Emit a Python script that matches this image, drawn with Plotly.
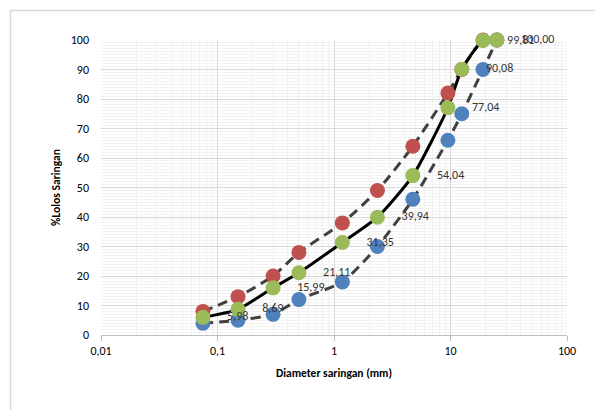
import plotly.graph_objects as go

# ---- data ----
sieve_mm = [0.075, 0.15, 0.3, 0.5, 1.18, 2.36, 4.75, 9.5, 12.5, 19, 25]
upper_limit = [8, 13, 20, 28, 38, 49, 64, 82, 90, 100, 100]
lower_limit = [4, 5, 7, 12, 18, 30, 46, 66, 75, 90, 100]
passing = [5.98, 8.69, 15.99, 21.11, 31.35, 39.94, 54.04, 77.04, 90.08, 99.81, 100.00]
x_tickvals = [0.01, 0.1, 1, 10, 100]
x_ticktext = ["0,01", "0,1", "1", "10", "100"]

FONT = "Calibri, Carlito, Lato, sans-serif"
RED = "#C0504D"
BLUE = "#4F81BD"
GREEN = "#9BBB59"
DASH_COL = "#404040"

# page offset of the figure (default body margin)
OFF = 8
W, H = 603 - OFF, 410 - OFF
L, R, T, B = 101 - OFF, 567 - OFF, 40 - OFF, 335 - OFF

fig = go.Figure()

# lines
fig.add_trace(go.Scatter(x=sieve_mm, y=upper_limit, mode="lines", cliponaxis=False,
                         line=dict(color=DASH_COL, width=3, dash="10px,6px", shape="spline", smoothing=0.6),
                         hoverinfo="skip", showlegend=False))
fig.add_trace(go.Scatter(x=sieve_mm, y=lower_limit, mode="lines", cliponaxis=False,
                         line=dict(color=DASH_COL, width=3, dash="10px,6px", shape="spline", smoothing=0.6),
                         hoverinfo="skip", showlegend=False))
fig.add_trace(go.Scatter(x=sieve_mm, y=passing, mode="lines", cliponaxis=False,
                         line=dict(color="#000000", width=3, shape="spline", smoothing=0.6),
                         hoverinfo="skip", showlegend=False))

# markers
for vals, col in [(upper_limit, RED), (lower_limit, BLUE), (passing, GREEN)]:
    fig.add_trace(go.Scatter(x=sieve_mm, y=vals, mode="markers", cliponaxis=False,
                             marker=dict(color=col, size=15, line=dict(width=0)),
                             showlegend=False))

# data labels
labels = [f"{v:.2f}".replace(".", ",") for v in passing]
fig.add_trace(go.Scatter(x=sieve_mm, y=passing, mode="markers+text", text=labels,
                         textposition="middle right", cliponaxis=False,
                         textfont=dict(family=FONT, size=12, color="#333333"),
                         marker=dict(size=37, opacity=0),
                         hoverinfo="skip", showlegend=False))

minor_x = [k * 10 ** e for e in range(-2, 2) for k in range(2, 10)]

fig.update_layout(
    width=W, height=H,
    margin=dict(l=L, r=W - R, t=T, b=H - B),
    paper_bgcolor="white", plot_bgcolor="white",
    font=dict(family=FONT, size=12, color="#000000"),
    xaxis=dict(
        type="log", range=[-2, 2],
        tickvals=x_tickvals, ticktext=x_ticktext,
        showgrid=True, gridcolor="#d9d9d9", gridwidth=1,
        minor=dict(tickvals=minor_x, showgrid=True, gridcolor="#f0f0f0", gridwidth=1, ticks=""),
        ticks="outside", ticklen=5, tickcolor="#bfbfbf",
        showline=True, linecolor="#bfbfbf", linewidth=1,
        zeroline=False,
        tickfont=dict(family=FONT, size=12, color="#000000"),
        title=dict(text="<b>Diameter saringan (mm)</b>", standoff=11,
                   font=dict(family=FONT, size=11.5, color="#000000")),
    ),
    yaxis=dict(
        range=[0, 100], dtick=10,
        showgrid=True, gridcolor="#d9d9d9", gridwidth=1,
        minor=dict(dtick=1, showgrid=True, gridcolor="#f2f2f2", gridwidth=1),
        ticks="", ticklabelstandoff=11,
        showline=False, zeroline=False,
        tickfont=dict(family=FONT, size=12, color="#000000"),
        title=dict(text="<b>%Lolos Saringan</b>", standoff=7,
                   font=dict(family=FONT, size=11.5, color="#000000")),
    ),
)

# chart outer border (extends past right/bottom edge as in the reference)
pw, ph = R - L, B - T
bx0 = 10.5 - OFF
by0 = 10.5 - OFF
fig.add_shape(type="rect", xref="paper", yref="paper",
              x0=(bx0 - L) / pw, x1=(W + 20 - L) / pw,
              y0=(B - (H + 20)) / ph, y1=(B - by0) / ph,
              line=dict(color="#d9d9d9", width=1.5), fillcolor="rgba(0,0,0,0)", layer="below")

fig.write_html("out.html")
